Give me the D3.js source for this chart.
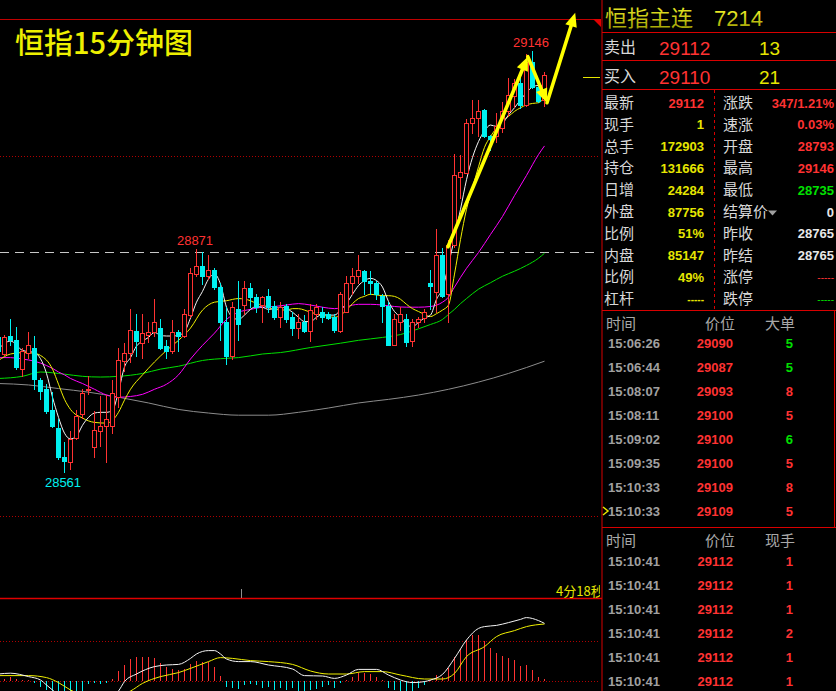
<!DOCTYPE html>
<html><head><meta charset="utf-8">
<script src="https://cdn.jsdelivr.net/npm/d3@7/dist/d3.min.js"></script>
<style>html,body{margin:0;padding:0;background:#000;}svg{display:block;}</style>
</head><body>
<svg id="c" width="836" height="691"></svg>
<script>
// ---------------- DATA ----------------
const chartTitle = "恒指15分钟图";
const opens = [28748,28725,28750,28744,28704,28727,28734,28689,28676,28647,28622,28582,28575,28608,28641,28675,28596,28618,28625,28625,28665,28715,28727,28757,28740,28752,28755,28761,28736,28729,28755,28750,28779,28836,28847,28833,28842,28818,28770,28722,28788,28793,28816,28804,28793,28805,28791,28777,28791,28777,28761,28770,28757,28780,28784,28781,28777,28757,28784,28824,28834,28840,28826,28824,28805,28791,28738,28770,28773,28743,28769,28775,28823,28811,28862,28808,28876,28971,28977,29046,29053,29064,29028,29028,29039,29062,29084,29102,29071,29131,29096,29078];
const highs = [28755,28752,28773,28762,28734,28755,28750,28691,28683,28672,28635,28603,28618,28647,28677,28694,28646,28666,28668,28689,28734,28740,28787,28780,28780,28769,28801,28773,28745,28772,28759,28788,28845,28871,28866,28863,28845,28824,28790,28797,28826,28826,28824,28808,28805,28815,28798,28797,28794,28783,28780,28779,28794,28794,28790,28783,28780,28811,28833,28845,28862,28842,28840,28827,28808,28797,28780,28790,28780,28773,28777,28787,28842,28899,28872,28884,29003,29001,29052,29078,29078,29065,29029,29060,29075,29109,29107,29116,29141,29146,29099,29116];
const lows = [28723,28723,28738,28704,28694,28720,28677,28662,28643,28623,28579,28561,28565,28607,28636,28669,28582,28597,28575,28615,28651,28701,28714,28722,28719,28741,28750,28732,28720,28726,28729,28748,28776,28833,28822,28829,28815,28745,28711,28718,28745,28780,28790,28784,28769,28784,28773,28763,28770,28752,28747,28755,28743,28773,28770,28773,28755,28755,28783,28808,28824,28808,28808,28801,28770,28737,28737,28759,28736,28736,28762,28770,28787,28784,28804,28770,28874,28942,28977,29032,29028,29027,29009,29020,29034,29055,29068,29066,29070,29095,29075,29070];
const closes = [28729,28748,28744,28707,28729,28738,28690,28673,28646,28625,28582,28576,28607,28639,28671,28677,28619,28625,28635,28671,28716,28726,28758,28743,28754,28755,28769,28734,28729,28755,28750,28781,28838,28847,28834,28842,28818,28770,28722,28790,28766,28816,28804,28790,28804,28790,28776,28790,28773,28761,28769,28757,28786,28790,28776,28775,28759,28808,28824,28834,28842,28826,28824,28808,28791,28738,28773,28781,28741,28769,28773,28783,28819,28863,28805,28876,28973,28978,29046,29053,29063,29028,29023,29041,29062,29085,29102,29071,29131,29096,29077,29112];

// moving averages: [bar index, price]
const ma5 = [[0,28732],[2,28743],[4,28730],[6,28727],[8,28698],[9,28665],[10,28637],[11,28615],[12,28607],[13,28611],[14,28626],[15,28637],[16,28643],[17,28644],[18,28644],[19,28647],[20,28673],[21,28707],[22,28720],[23,28736],[24,28743],[25,28748],[26,28755],[27,28751],[28,28750],[29,28750],[30,28751],[31,28756],[32,28775],[33,28797],[34,28812],[35,28829],[36,28836],[37,28822],[38,28790],[39,28776],[40,28773],[41,28779],[42,28787],[43,28791],[44,28790],[45,28787],[46,28788],[47,28790],[48,28788],[49,28783],[50,28776],[51,28770],[52,28770],[53,28776],[54,28780],[55,28779],[56,28779],[57,28786],[58,28795],[59,28808],[60,28820],[61,28827],[62,28830],[63,28827],[64,28818],[65,28798],[66,28784],[67,28776],[68,28766],[69,28763],[70,28769],[71,28775],[72,28779],[73,28801],[74,28816],[75,28849],[76,28887],[77,28926],[78,28967],[79,28998],[80,29020],[81,29035],[82,29043],[83,29041],[84,29045],[85,29057],[86,29067],[87,29078],[88,29088],[89,29096],[90,29098],[91,29096]];
const ma10 = [[0,28716],[2,28725],[4,28727],[6,28726],[7,28723],[9,28704],[10,28683],[11,28662],[12,28648],[14,28636],[16,28630],[18,28629],[19,28633],[20,28644],[21,28661],[22,28676],[24,28696],[26,28714],[28,28730],[30,28744],[32,28761],[34,28786],[36,28797],[38,28799],[40,28802],[42,28799],[43,28795],[44,28793],[46,28787],[48,28786],[49,28788],[50,28788],[51,28786],[52,28783],[54,28779],[56,28776],[57,28779],[58,28786],[59,28795],[60,28802],[61,28805],[62,28808],[64,28806],[65,28806],[66,28805],[67,28801],[68,28794],[69,28788],[70,28784],[71,28780],[72,28777],[73,28781],[74,28786],[75,28793],[76,28836],[77,28884],[78,28926],[79,28956],[80,28985],[81,29012],[82,29027],[83,29039],[84,29049],[85,29055],[86,29062],[87,29067],[88,29071],[89,29073],[90,29074],[91,29081]];
const ma20 = [[0,28720],[2,28720],[4,28718],[6,28715],[8,28709],[9,28705],[10,28700],[11,28696],[12,28691],[14,28684],[16,28676],[18,28668],[20,28665],[22,28666],[24,28669],[26,28676],[28,28683],[30,28696],[32,28718],[34,28737],[36,28754],[38,28773],[40,28783],[42,28787],[44,28790],[46,28791],[48,28793],[50,28795],[52,28793],[54,28790],[56,28788],[58,28791],[60,28794],[62,28794],[64,28793],[66,28791],[68,28790],[70,28790],[72,28791],[74,28797],[75,28804],[76,28818],[78,28844],[80,28866],[82,28891],[84,28916],[86,28945],[88,28973],[90,29002],[91,29014]];
const ma60 = [[0,28691],[4,28694],[7,28700],[11,28697],[14,28694],[17,28693],[20,28694],[24,28698],[27,28704],[30,28708],[34,28716],[38,28719],[40,28720],[44,28725],[47,28727],[52,28734],[57,28740],[60,28744],[64,28748],[67,28752],[70,28760],[72,28766],[74,28773],[75,28780],[76,28787],[77,28795],[78,28802],[80,28815],[82,28824],[84,28833],[86,28840],[88,28848],[90,28858],[91,28865]];
const ma120 = [[0,28684],[5,28682],[10,28677],[15,28672],[20,28665],[25,28657],[30,28648],[35,28643],[40,28640],[45,28640],[50,28644],[55,28650],[60,28657],[65,28662],[70,28668],[75,28676],[80,28686],[85,28698],[91,28715]];

const gridLevels = [28500, 29000];
const refLevel = 28867;
const lastPrice = 29110;
const extremes = [{i:89, v:29146, type:"high"},{i:33, v:28871, type:"high"},{i:11, v:28561, type:"low"}];
const arrowPath = [[75,28874],[88.3,29138],[91.5,29074],[96.2,29199]];
const timerText = "4分18秒";

// MACD (DIF / DEA / histogram)
const macdHist = [0.8,1.2,2.2,0.8,0.5,0.3,-1.2,-2.8,-4.5,-6,-8,-10,-10,-9,-7,-1.5,-1.2,-1.5,-0.8,1,5,8,11,11.8,12,11.8,11.3,9.2,7.2,6,5.3,6,8.5,10,9.7,9.7,7.2,2.5,-2.8,-3.7,-4.2,-2,-1.7,-2,-3.7,-2.8,-4.5,-3.7,-4.5,-3.7,-6,-6,-4.5,-4.2,-2.8,-2,-3.7,-1.2,0.5,2.2,3.8,3.8,3.3,1.8,0.5,-3.7,-4.5,-6,-6,-6,-3.7,-2,0.5,3,2.2,6.3,12.2,15.8,20.5,23,23,20,16.7,14.2,12.7,11.3,10.5,7.7,8,5.5,1.8,0.8];
const dif = [[0,3.5],[2,3.9],[5,2.2],[7,0.5],[8,-2],[9,-4.5],[10,-7],[12,-11],[14,-13],[16,-12],[18,-9],[20,-5],[21,-0.3],[23,3.5],[26,7.2],[28,8],[30,8.3],[32,11.3],[33,13.5],[35,15.2],[36,15.2],[37,13.5],[38,11],[40,9.7],[42,9.7],[45,8],[49,6],[51,2.7],[54,2.5],[56,1.3],[58,3],[60,5.8],[63,5.8],[65,3],[67,0.5],[69,-0.8],[71,-0.3],[72,0.5],[74,3.3],[76,11.3],[78,20.5],[80,26.3],[81,27.2],[83,27.8],[85,29.2],[87,30.8],[88,31.7],[90,30.2],[91,28.8]];
const dea = [[0,2.7],[5,2.7],[8,1.7],[10,-0.8],[12,-4.5],[14,-7],[17,-8],[20,-7],[22,-5],[24,-1.2],[27,2.2],[30,4.2],[32,6.3],[35,9.7],[37,11.7],[39,11.3],[42,10.2],[45,9.7],[49,8.3],[52,5],[55,3.5],[58,3.5],[61,4.7],[64,4.7],[67,3],[71,1],[74,1],[76,3.8],[78,12.2],[81,17.2],[83,22.2],[86,25.2],[88,27.2],[91,28.5]];
const macdGrid = [0, 20];

// Quote panel
const quoteName = "恒指主连";
const quoteCode = "7214";
const askLabel = "卖出", askPrice = "29112", askVol = "13";
const bidLabel = "买入", bidPrice = "29110", bidVol = "21";
const leftLabels = ["最新","现手","总手","持仓","日增","外盘","比例","内盘","比例","杠杆"];
const leftValues = ["29112","1","172903","131666","24284","87756","51%","85147","49%","-----"];
const leftTones  = ["up","vol","vol","vol","vol","vol","vol","vol","vol","vol"];
const rightLabels = ["涨跌","速涨","开盘","最高","最低","结算价","昨收","昨结","涨停","跌停"];
const rightValues = ["347/1.21%","0.03%","28793","29146","28735","0","28765","28765","-----","-----"];
const rightTones  = ["up","up","up","up","down","flat","flat","flat","up","down"];

const tickHeader1 = ["时间","价位","大单"];
const tickTimes1 = ["15:06:26","15:06:44","15:08:07","15:08:11","15:09:02","15:09:35","15:10:33","15:10:33"];
const tickPrices1 = ["29090","29087","29093","29100","29100","29100","29109","29109"];
const tickVols1 = ["5","5","8","5","6","5","8","5"];
const tickSides1 = ["down","down","up","up","down","up","up","up"];
const tickHeader2 = ["时间","价位","现手"];
const tickTimes2 = ["15:10:41","15:10:41","15:10:41","15:10:41","15:10:41","15:10:41"];
const tickPrices2 = ["29112","29112","29112","29112","29112","29112"];
const tickVols2 = ["1","1","1","2","1","1"];

// ---------------- DRAW ----------------
const RED = "#ff3232", CYAN = "#00f0f0", YEL = "#e6e600", GRN = "#00e000", WHT = "#e8e8e8";
const LINE_RED = "#d80000";
const tone = {up:RED, down:GRN, vol:YEL, flat:WHT};
const cjk = "'Noto Sans CJK SC','Noto Sans',sans-serif";
const num = "'Liberation Sans',Arial,sans-serif";

const svg = d3.select("#c");
svg.append("rect").attr("width",836).attr("height",691).attr("fill","#000");
const defs = svg.append("defs");
defs.append("clipPath").attr("id","mainClip").append("rect").attr("x",0).attr("y",0).attr("width",600).attr("height",598);
defs.append("clipPath").attr("id","macdClip").append("rect").attr("x",0).attr("y",599).attr("width",600).attr("height",92);
const g1 = defs.append("linearGradient").attr("id","tg").attr("x1",0).attr("y1",0).attr("x2",0).attr("y2",1);
g1.append("stop").attr("offset","0%").attr("stop-color","#ffff30");
g1.append("stop").attr("offset","100%").attr("stop-color","#9a9a00");

const x = d3.scaleLinear().domain([0,91]).range([-2,544]);
const y = d3.scaleLinear().domain([28500,29000]).range([516,156]);
const ym = d3.scaleLinear().domain([0,20]).range([681,641]);

const main = svg.append("g").attr("clip-path","url(#mainClip)");

// frame lines
svg.append("line").attr("x1",0).attr("x2",601).attr("y1",19.5).attr("y2",19.5).attr("stroke","#c00000");
svg.append("line").attr("x1",0).attr("x2",602).attr("y1",598.5).attr("y2",598.5).attr("stroke","#e00000").attr("stroke-width",1.5);
svg.append("line").attr("x1",602).attr("x2",602).attr("y1",0).attr("y2",691).attr("stroke",LINE_RED);
svg.append("path").attr("d","M593,19 L601,19 L601,27 Z").attr("fill","#e00000");

// grid
main.selectAll(".grid").data(gridLevels).join("line")
  .attr("x1",0).attr("x2",600).attr("y1",d=>Math.round(y(d))+0.5).attr("y2",d=>Math.round(y(d))+0.5)
  .attr("stroke","#b00000").attr("stroke-dasharray","1,2");
main.append("line").attr("x1",0).attr("x2",600).attr("y1",Math.round(y(refLevel))+0.5).attr("y2",Math.round(y(refLevel))+0.5)
  .attr("stroke","#c8c8c8").attr("stroke-dasharray","9,6");

// title
svg.append("text").attr("x",15).attr("y",54).attr("font-family",cjk).attr("font-size",29).attr("font-weight",500)
  .attr("fill","#eef000").text(chartTitle);

// moving averages
const maLine = d3.line().x(d=>x(d[0])+0.5).y(d=>y(d[1])).curve(d3.curveMonotoneX);
[[ma120,"#8c8c8c"],[ma60,"#00e000"],[ma20,"#ff00ff"],[ma10,"#f0f000"],[ma5,"#f4f4f4"]].forEach(([d,c])=>{
  main.append("path").attr("d",maLine(d)).attr("fill","none").attr("stroke",c).attr("stroke-width",1);
});

// candles
const bars = opens.map((o,i)=>({i,o,h:highs[i],l:lows[i],c:closes[i]}));
const cg = main.append("g").attr("shape-rendering","crispEdges");
bars.forEach(b=>{
  const cx = Math.round(x(b.i));
  const up = b.c >= b.o;
  const col = up ? RED : CYAN;
  cg.append("line").attr("x1",cx+0.5).attr("x2",cx+0.5).attr("y1",Math.round(y(b.h))).attr("y2",Math.round(y(b.l))+1).attr("stroke",col);
  const top = Math.round(y(Math.max(b.o,b.c))), bot = Math.round(y(Math.min(b.o,b.c)));
  if (up) {
    cg.append("rect").attr("x",cx-1.5).attr("y",top+0.5).attr("width",4).attr("height",Math.max(1,bot-top))
      .attr("fill","#000").attr("stroke",col);
  } else {
    cg.append("rect").attr("x",cx-2).attr("y",top).attr("width",5).attr("height",Math.max(1,bot-top+1)).attr("fill",col);
  }
});

// extreme labels
extremes.forEach(e=>{
  svg.append("text").attr("x",x(e.i)-1).attr("y",e.type==="high"? y(e.v)-4 : y(e.v)+15)
    .attr("text-anchor","middle").attr("font-family",num).attr("font-size",13)
    .attr("fill",e.type==="high"?RED:CYAN).text(e.v);
});

// last-price marker
svg.append("line").attr("x1",583).attr("x2",600).attr("y1",Math.round(y(lastPrice))+0.5).attr("y2",Math.round(y(lastPrice))+0.5).attr("stroke","#e6e600");

// yellow arrows
function arrow(p0,p1){
  const dx=p1[0]-p0[0], dy=p1[1]-p0[1], L=Math.hypot(dx,dy), ux=dx/L, uy=dy/L, px=-uy, py=ux;
  const hl=14, hw=6;
  const bx=p1[0]-ux*hl, by=p1[1]-uy*hl;
  svg.append("line").attr("x1",p0[0]).attr("y1",p0[1]).attr("x2",bx+ux*2).attr("y2",by+uy*2)
    .attr("stroke","#ffff00").attr("stroke-width",3.6).attr("stroke-linecap","round");
  svg.append("path").attr("d",`M${p1[0]},${p1[1]} L${bx+px*hw},${by+py*hw} L${bx-px*hw},${by-py*hw} Z`).attr("fill","#ffff00");
}
const ap = arrowPath.map(d=>[x(d[0]),y(d[1])]);
for (let k=0;k<ap.length-1;k++) arrow(ap[k],ap[k+1]);

// timer text & tick
svg.append("g").attr("clip-path","url(#mainClip)").append("text").attr("x",556).attr("y",596)
  .attr("font-family",cjk).attr("font-size",13).attr("fill","#e6e600").text(timerText);
svg.append("line").attr("x1",241.5).attr("x2",241.5).attr("y1",589).attr("y2",598).attr("stroke","#909090");

// MACD
const mg = svg.append("g").attr("clip-path","url(#macdClip)");
mg.selectAll(".mg").data(macdGrid).join("line").attr("x1",0).attr("x2",600)
  .attr("y1",d=>Math.round(ym(d))+0.5).attr("y2",d=>Math.round(ym(d))+0.5)
  .attr("stroke","#b00000").attr("stroke-dasharray","1,2");
mg.append("g").attr("shape-rendering","crispEdges").selectAll("line").data(macdHist).join("line")
  .attr("x1",(d,i)=>Math.round(x(i))+0.5).attr("x2",(d,i)=>Math.round(x(i))+0.5)
  .attr("y1",ym(0)).attr("y2",d=>ym(d)).attr("stroke",d=>d>=0?RED:CYAN);
const mLine = d3.line().x(d=>x(d[0])+0.5).y(d=>ym(d[1])).curve(d3.curveMonotoneX);
mg.append("path").attr("d",mLine(dea)).attr("fill","none").attr("stroke","#f0f000");
mg.append("path").attr("d",mLine(dif)).attr("fill","none").attr("stroke","#f4f4f4");

// ---------------- QUOTE PANEL ----------------
const P = svg.append("g");
const hline = (yy)=>P.append("line").attr("x1",602).attr("x2",836).attr("y1",yy+0.5).attr("y2",yy+0.5).attr("stroke",LINE_RED);
[32,60,89,310,527].forEach(hline);
P.append("line").attr("x1",834.5).attr("x2",834.5).attr("y1",310).attr("y2",527).attr("stroke",LINE_RED);
P.append("line").attr("x1",714.5).attr("x2",714.5).attr("y1",90).attr("y2",310).attr("stroke",LINE_RED).attr("stroke-dasharray","3,3");

P.append("text").attr("x",605).attr("y",26).attr("font-family",cjk).attr("font-size",22).attr("fill","url(#tg)").text(quoteName);
P.append("text").attr("x",714).attr("y",26).attr("font-family",num).attr("font-size",22).attr("fill","url(#tg)").text(quoteCode);

[[askLabel,askPrice,askVol,54],[bidLabel,bidPrice,bidVol,83]].forEach(([lb,pr,vo,yy])=>{
  P.append("text").attr("x",604).attr("y",yy-1).attr("font-family",cjk).attr("font-size",16).attr("fill","#d8d8d8").text(lb);
  P.append("text").attr("x",659).attr("y",yy+1).attr("font-family",num).attr("font-size",19).attr("fill",RED).text(pr);
  P.append("text").attr("x",759).attr("y",yy+1).attr("font-family",num).attr("font-size",19).attr("fill",YEL).text(vo);
});

leftLabels.forEach((lb,i)=>{
  const yc = 102.5 + 21.8*i;
  P.append("text").attr("x",604).attr("y",yc+5.5).attr("font-family",cjk).attr("font-size",15).attr("fill","#d8d8d8").text(lb);
  const isDash = leftValues[i].startsWith("--");
  P.append("text").attr("x",704).attr("y",isDash? yc+4 : yc+5).attr("text-anchor","end").attr("font-family",num)
    .attr("font-weight","bold").attr("font-size",isDash?10:13).attr("fill",tone[leftTones[i]]).text(leftValues[i]);
  P.append("text").attr("x",723).attr("y",yc+5.5).attr("font-family",cjk).attr("font-size",15).attr("fill","#d8d8d8").text(rightLabels[i]);
  const rDash = rightValues[i].startsWith("--");
  P.append("text").attr("x",834).attr("y",rDash? yc+4 : yc+5).attr("text-anchor","end").attr("font-family",num)
    .attr("font-weight",rDash?"normal":"bold").attr("font-size",rDash?10:13).attr("fill",tone[rightTones[i]]).text(rightValues[i]);
});
// small dropdown triangle after 结算价
{
  const yc = 102.5 + 21.8*5;
  P.append("path").attr("d",`M768,${yc-1} L777,${yc-1} L772.5,${yc+4} Z`).attr("fill","#a0a0a0");
}

function tickTable(header, times, prices, vols, sides, hy, y0){
  const hx = [606,705,765];
  header.forEach((h,j)=>P.append("text").attr("x",hx[j]).attr("y",hy).attr("font-family",cjk).attr("font-size",15).attr("fill","#a8a8a8").text(h));
  times.forEach((t,i)=>{
    const yc = y0 + 24*i;
    P.append("text").attr("x",608).attr("y",yc+5).attr("font-family",num).attr("font-weight","bold").attr("font-size",13).attr("fill","#a0a0a0").text(t);
    P.append("text").attr("x",733).attr("y",yc+5).attr("text-anchor","end").attr("font-family",num).attr("font-weight","bold").attr("font-size",13).attr("fill",RED).text(prices[i]);
    P.append("text").attr("x",793).attr("y",yc+5).attr("text-anchor","end").attr("font-family",num).attr("font-weight","bold").attr("font-size",13)
      .attr("fill", sides[i]==="down"?GRN:RED).text(vols[i]);
  });
}
tickTable(tickHeader1,tickTimes1,tickPrices1,tickVols1,tickSides1,329,343.3);
tickTable(tickHeader2,tickTimes2,tickPrices2,tickVols2,tickVols2.map(()=>"up"),546,561.3);
P.append("path").attr("d","M603,507 L608,511 L603,515").attr("fill","none").attr("stroke","#e6e600").attr("stroke-width",1.5);
</script>
</body></html>
